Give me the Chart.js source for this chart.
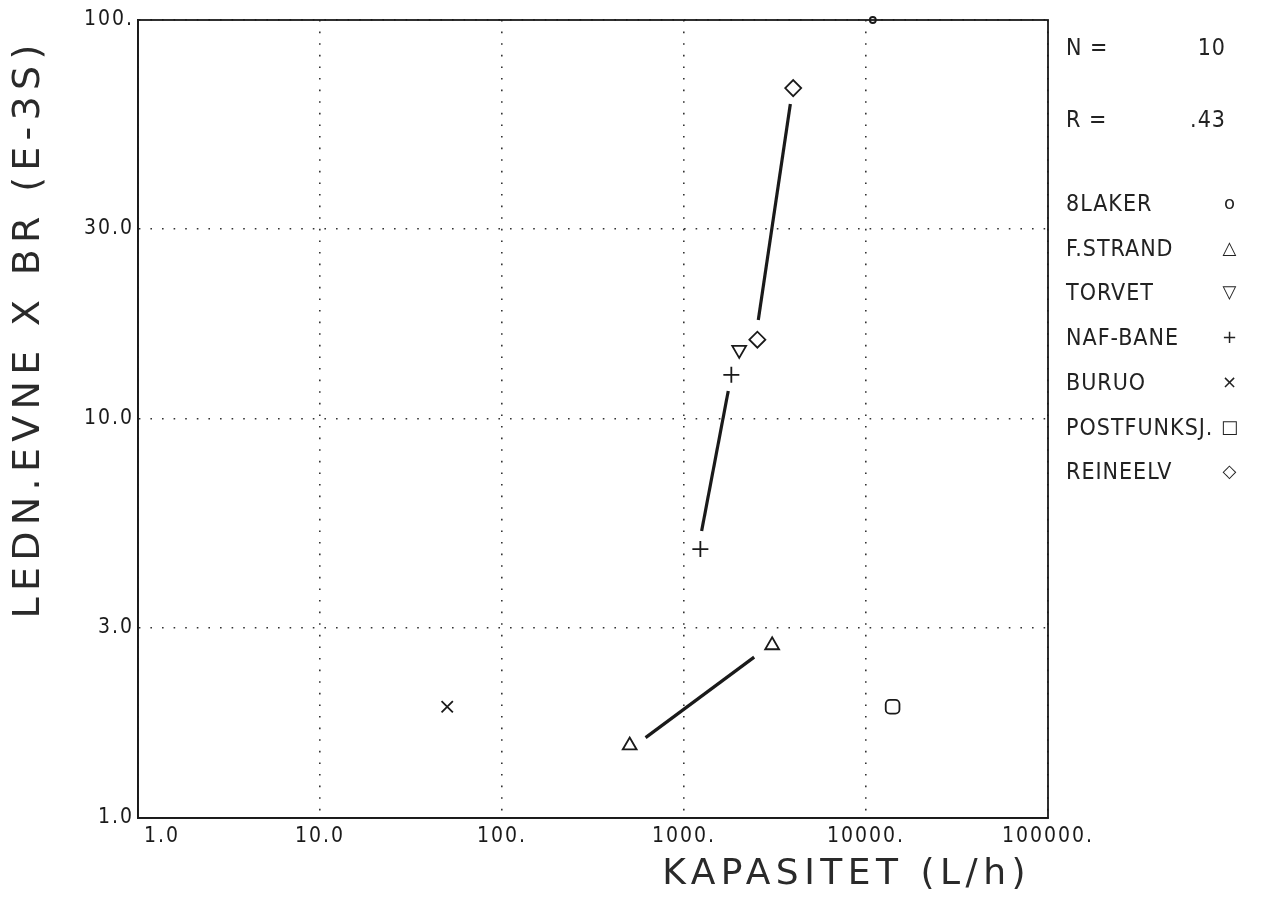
<!DOCTYPE html>
<html>
<head>
<meta charset="utf-8">
<script src="https://cdn.jsdelivr.net/npm/chart.js@4/dist/chart.umd.min.js"></script>
<style>
  body { margin: 0; background: #fff; }
  #wrap { position: relative; width: 1264px; height: 898px; }
  #side { position: absolute; left: 1066px; top: 0; width: 190px; font-family: "Liberation Sans Narrow", "DejaVu Sans Condensed", "DejaVu Sans", sans-serif; font-size: 23px; color: #222; letter-spacing: 1px; }
  .row { position: absolute; left: 0; width: 174px; height: 26px; line-height: 26px; white-space: nowrap; }
  .row .v { position: absolute; right: 14px; top: 0; }
  .row .sym { position: absolute; right: 0px; top: 0; width: 20px; text-align: center; font-family: "DejaVu Sans", sans-serif; font-size: 18px; }
</style>
</head>
<body>
<div id="wrap">
  <canvas id="chart" width="1264" height="898"></canvas>
  <div id="side"></div>
</div>
<script>
// values (log-log axes)
const blakerX = [10900], blakerY = [100];
const fstrandX = [503, 3050], fstrandY = [1.52, 2.71];
const torvetX = [2010], torvetY = [14.9];
const nafX = [1820, 1230], nafY = [12.9, 4.72];
const buruoX = [50], buruoY = [1.9];
const postX = [14000], postY = [1.9];
const reineX = [3980, 2530], reineY = [67.5, 15.8];

// fitted lines drawn through each group
const fitStrandX = [615, 2430], fitStrandY = [1.59, 2.53];
const fitNafX = [1250, 1750], fitNafY = [5.24, 11.75];
const fitReineX = [2560, 3840], fitReineY = [17.7, 61.6];

const xTicks = [1, 10, 100, 1000, 10000, 100000];
const xTickLabels = ["      1.0", "10.0", "100.", "1000.", "10000.", "100000."];
const yTicks = [1, 3, 10, 30, 100];
const yTickLabels = ["1.0", "3.0", "10.0", "30.0", "100."];

const legendNames = ["8LAKER", "F.STRAND", "TORVET", "NAF-BANE", "BURUO", "POSTFUNKSJ.", "REINEELV"];
const legendSymbols = ["o", "\u25B3", "\u25BD", "+", "\u00D7", "\u25A1", "\u25C7"];
const statNames = ["N =", "R ="];
const statValues = ["10", ".43"];

function pts(xs, ys) { return xs.map((x, i) => ({x: x, y: ys[i]})); }

const ink = "#1a1a1a";
const fontFam = '"Liberation Sans Narrow", "DejaVu Sans Condensed", "DejaVu Sans", sans-serif';
const titleFam = '"DejaVu Sans", sans-serif';

function markerSet(label, xs, ys, style, r, rot) {
  return {
    label: label, data: pts(xs, ys), showLine: false,
    pointStyle: style, pointRadius: r, pointRotation: rot || 0,
    pointBorderColor: ink, pointBackgroundColor: "rgba(0,0,0,0)", pointBorderWidth: 1.8,
    clip: false
  };
}
function fitSet(xs, ys) {
  return {
    label: "", data: pts(xs, ys), showLine: true, borderColor: ink, borderWidth: 3.2,
    pointRadius: 0, fill: false
  };
}

// wider letter spacing for the axis titles, like the plotter lettering
function spacedTitle(scale, spacing) {
  if (scale._spaced) return;
  const orig = scale.drawTitle.bind(scale);
  scale.drawTitle = function() {
    const ctx = this.ctx;
    ctx.save(); ctx.letterSpacing = spacing; orig(); ctx.restore();
  };
  scale._spaced = true;
}

const framePlugin = {
  id: "frame",
  beforeDraw(chart) {
    chart.ctx.letterSpacing = "2px";
    spacedTitle(chart.scales.x, "5.5px");
    spacedTitle(chart.scales.y, "6.3px");
  },
  afterDatasetsDraw(chart) {
    const a = chart.chartArea, ctx = chart.ctx;
    ctx.save();
    ctx.strokeStyle = ink; ctx.lineWidth = 1.8;
    ctx.strokeRect(a.left, a.top, a.right - a.left, a.bottom - a.top);
    ctx.restore();
  }
};

new Chart("chart", {
  type: "scatter",
  data: {
    datasets: [
      markerSet("8LAKER", blakerX, blakerY, "circle", 3),
      markerSet("F.STRAND", fstrandX, fstrandY, "triangle", 8),
      markerSet("TORVET", torvetX, torvetY, "triangle", 8, 180),
      markerSet("NAF-BANE", nafX, nafY, "cross", 8),
      markerSet("BURUO", buruoX, buruoY, "crossRot", 8),
      markerSet("POSTFUNKSJ.", postX, postY, "rectRounded", 8),
      markerSet("REINEELV", reineX, reineY, "rectRot", 8),
      fitSet(fitStrandX, fitStrandY),
      fitSet(fitNafX, fitNafY),
      fitSet(fitReineX, fitReineY)
    ]
  },
  options: {
    responsive: false,
    animation: false,
    layout: { padding: { left: 0, top: 20, right: 216, bottom: 0 } },
    plugins: { legend: { display: false }, tooltip: { enabled: false } },
    scales: {
      x: {
        type: "logarithmic", min: 1, max: 100000,
        afterBuildTicks: s => { s.ticks = xTicks.map(v => ({value: v})); },
        afterFit: s => { s.height = 80; },
        ticks: { color: ink, padding: 6, maxRotation: 0, autoSkip: false,
          font: { family: fontFam, size: 21 },
          callback: (v, i) => xTickLabels[i] },
        grid: { color: "#333", lineWidth: 1.6, drawTicks: false },
        border: { display: true, color: ink, width: 1.8, dash: [1.6, 10] },
        title: { display: true, text: "KAPASITET (L/h) ", align: "end", color: "#2a2a2a",
          font: { family: titleFam, size: 36, weight: "normal" }, padding: { top: 0, bottom: 2 } }
      },
      y: {
        type: "logarithmic", min: 1, max: 100,
        afterBuildTicks: s => { s.ticks = yTicks.map(v => ({value: v})); },
        afterFit: s => { s.width = 138; },
        ticks: { color: ink, padding: 4, autoSkip: false,
          font: { family: fontFam, size: 21 },
          callback: (v, i) => yTickLabels[i] },
        grid: { color: "#333", lineWidth: 1.6, drawTicks: false },
        border: { display: true, color: ink, width: 1.8, dash: [1.6, 10] },
        title: { display: true, text: "LEDN.EVNE X BR (E-3S) ", align: "end", color: "#2a2a2a",
          font: { family: titleFam, size: 38, weight: "normal" }, padding: { top: 6, bottom: 0 } }
      }
    }
  },
  plugins: [framePlugin]
});

// side panel: stats and legend
let html = "";
statNames.forEach((n, i) => {
  html += `<div class="row" style="top:${34 + i * 72}px">${n}<span class="v">${statValues[i]}</span></div>`;
});
legendNames.forEach((n, i) => {
  html += `<div class="row" style="top:${190 + i * 44.7}px">${n}<span class="sym">${legendSymbols[i]}</span></div>`;
});
document.getElementById("side").innerHTML = html;
</script>
</body>
</html>
